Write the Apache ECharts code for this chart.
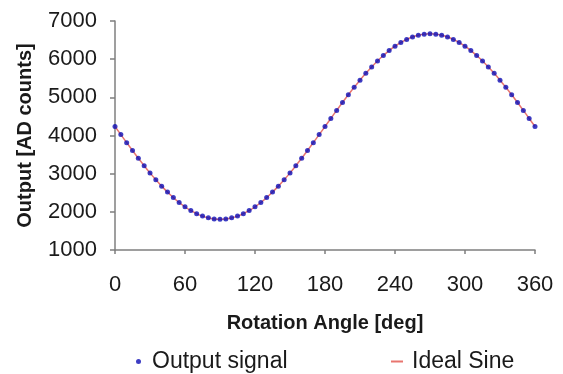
<!DOCTYPE html>
<html>
<head>
<meta charset="utf-8">
<script src="https://cdn.jsdelivr.net/npm/echarts@6/dist/echarts.min.js"></script>
<style>
  html, body { margin: 0; padding: 0; background: #fff; }
  #chart { width: 563px; height: 374px; }
</style>
</head>
<body>
<div id="chart"></div>
<script>
// rotation angle [deg], one sample every 5 deg
const angles = [0, 5, 10, 15, 20, 25, 30, 35, 40, 45, 50, 55, 60, 65, 70, 75, 80, 85, 90,
  95, 100, 105, 110, 115, 120, 125, 130, 135, 140, 145, 150, 155, 160, 165, 170, 175, 180,
  185, 190, 195, 200, 205, 210, 215, 220, 225, 230, 235, 240, 245, 250, 255, 260, 265, 270,
  275, 280, 285, 290, 295, 300, 305, 310, 315, 320, 325, 330, 335, 340, 345, 350, 355, 360];

// measured output [AD counts]
const outputSignal = [4235, 4023, 3813, 3606, 3404, 3208, 3020, 2841, 2673, 2517, 2374, 2244, 2131, 2033, 1952, 1888, 1842, 1814, 1805,
  1814, 1842, 1888, 1952, 2033, 2131, 2244, 2374, 2517, 2673, 2841, 3020, 3208, 3404, 3606, 3813, 4023, 4235,
  4447, 4657, 4864, 5066, 5262, 5450, 5629, 5797, 5953, 6096, 6226, 6339, 6437, 6518, 6582, 6628, 6656, 6665,
  6656, 6628, 6582, 6518, 6437, 6339, 6226, 6096, 5953, 5797, 5629, 5450, 5262, 5066, 4864, 4657, 4447, 4235];

// fitted ideal sine [AD counts]
const idealSine = [4235, 4023, 3813, 3606, 3404, 3208, 3020, 2841, 2673, 2517, 2374, 2244, 2131, 2033, 1952, 1888, 1842, 1814, 1805,
  1814, 1842, 1888, 1952, 2033, 2131, 2244, 2374, 2517, 2673, 2841, 3020, 3208, 3404, 3606, 3813, 4023, 4235,
  4447, 4657, 4864, 5066, 5262, 5450, 5629, 5797, 5953, 6096, 6226, 6339, 6437, 6518, 6582, 6628, 6656, 6665,
  6656, 6628, 6582, 6518, 6437, 6339, 6226, 6096, 5953, 5797, 5629, 5450, 5262, 5066, 4864, 4657, 4447, 4235];

const font = 'Liberation Sans, Arial, sans-serif';
const txt = '#1a1a1a';
const axisCol = '#7f7f7f';

const chart = echarts.init(document.getElementById('chart'));

chart.setOption({
  animation: false,
  textStyle: { fontFamily: font },
  grid: { left: 115, right: 28, top: 21, bottom: 124 },
  legend: [
    {
      left: 131, top: 345,
      itemWidth: 5, itemHeight: 5,
      data: [{ name: 'Output signal', icon: 'circle' }],
      textStyle: { fontSize: 23, color: txt, fontFamily: font, padding: [0, 0, 0, 6] }
    },
    {
      left: 386, top: 345,
      itemWidth: 12, itemHeight: 2,
      data: [{ name: 'Ideal Sine', icon: 'rect' }],
      textStyle: { fontSize: 23, color: txt, fontFamily: font, padding: [0, 0, 0, 4] }
    }
  ],
  xAxis: {
    type: 'value',
    min: 0, max: 360, interval: 60,
    name: 'Rotation Angle [deg]',
    nameLocation: 'middle',
    nameGap: 63,
    nameTextStyle: { fontSize: 20, fontWeight: 'bold', color: txt, fontFamily: font },
    axisLine: { show: true, lineStyle: { color: axisCol, width: 1.5 } },
    axisTick: { show: true, length: 4, lineStyle: { color: axisCol, width: 1.5 } },
    axisLabel: { fontSize: 22, color: txt, margin: 24, fontFamily: font },
    splitLine: { show: false }
  },
  yAxis: {
    type: 'value',
    min: 1000, max: 7000, interval: 1000,
    name: 'Output [AD counts]',
    nameLocation: 'middle',
    nameGap: 80,
    nameTextStyle: { fontSize: 20, fontWeight: 'bold', color: txt, fontFamily: font },
    axisLine: { show: true, lineStyle: { color: axisCol, width: 1.5 } },
    axisTick: { show: true, length: 5, lineStyle: { color: axisCol, width: 1.5 } },
    axisLabel: { fontSize: 22, color: txt, margin: 18, fontFamily: font, formatter: v => String(v) },
    splitLine: { show: false }
  },
  series: [
    {
      name: 'Ideal Sine',
      type: 'line',
      data: angles.map((a, i) => [a, idealSine[i]]),
      showSymbol: false,
      smooth: true,
      itemStyle: { color: '#e8756f' },
      lineStyle: { color: '#e8756f', width: 1.5 },
      z: 1
    },
    {
      name: 'Output signal',
      type: 'scatter',
      data: angles.map((a, i) => [a, outputSignal[i]]),
      symbol: 'circle',
      symbolSize: 5,
      itemStyle: { color: '#0c0cb4' },
      z: 2
    }
  ]
});
</script>
</body>
</html>
